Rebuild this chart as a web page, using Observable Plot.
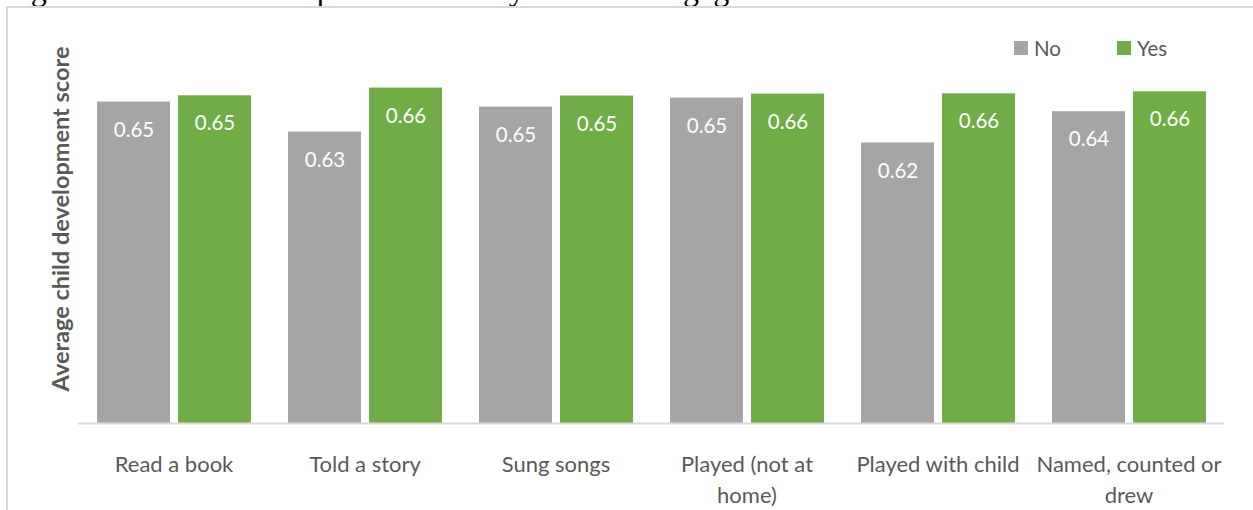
<!DOCTYPE html>
<html>
<head>
<meta charset="utf-8">
<script src="https://cdn.jsdelivr.net/npm/d3@7"></script>
<script src="https://cdn.jsdelivr.net/npm/@observablehq/plot@0.6"></script>
<style>
  html, body { margin: 0; padding: 0; background: #fff; overflow: hidden; width: 1253px; height: 510px; }
  #wrap { position: relative; width: 1253px; height: 510px; overflow: hidden; }
  #title { position: absolute; left: 4px; top: -27px; font: 32px "Liberation Serif", "Times New Roman", serif; line-height: 1; color: #000; white-space: nowrap; }
  #frame { position: absolute; left: 6px; top: 6px; width: 1400px; height: 700px; border-left: 2px solid #d9d9d9; border-top: 2px solid #d9d9d9; }
  #chart { position: absolute; left: 0; top: 0; }
  #ytitle { position: absolute; left: 60px; top: 219px; transform: translate(-50%, -50%) rotate(-90deg); font: bold 23.5px Lato, sans-serif; color: #595959; white-space: nowrap; }
  .legend { position: absolute; top: 36px; font: 20.5px Lato, sans-serif; color: #595959; display: flex; align-items: center; }
  .legend .sw { width: 14px; height: 14px; margin-right: 6px; display: inline-block; }
</style>
</head>
<body>
<div id="wrap">
  <div id="title">Figure 3.4: Child development scores by maternal engagement activities</div>
  <div id="frame"></div>
  <div id="chart"></div>
  <div id="ytitle">Average child development score</div>
  <div class="legend" id="legNo" style="left:1014px"><span class="sw" style="background:#a5a5a5"></span><span>No</span></div>
  <div class="legend" id="legYes" style="left:1117px"><span class="sw" style="background:#70ad47"></span><span>Yes</span></div>
</div>
<script>
const categories = ["Read a book", "Told a story", "Sung songs", "Played (not at home)", "Played with child", "Named, counted or drew"];
const categoryLabels = ["Read a book", "Told a story", "Sung songs", "Played (not at\nhome)", "Played with child", "Named, counted or\ndrew"];
const groups = ["No", "Yes"];
const noValues = [0.650, 0.6267, 0.6461, 0.6531, 0.6182, 0.6425];
const yesValues = [0.6549, 0.6609, 0.6547, 0.6562, 0.6564, 0.6580];
const colors = ["#a5a5a5", "#70ad47"];
const yMin = 0.4, yMax = 0.68;

const data = [];
categories.forEach((c, i) => {
  data.push({category: c, group: "No", value: noValues[i]});
  data.push({category: c, group: "Yes", value: yesValues[i]});
});
const labelOf = new Map(categories.map((c, i) => [c, categoryLabels[i]]));

const chart = Plot.plot({
  width: 1253,
  height: 510,
  marginTop: 63,
  marginBottom: 87,
  marginLeft: 77,
  marginRight: 28,
  style: {fontFamily: "Lato, sans-serif", background: "transparent"},
  fx: {domain: categories, paddingInner: 0, paddingOuter: 0},
  x: {domain: groups, paddingInner: 0.099, paddingOuter: 0.228, axis: null},
  y: {domain: [yMin, yMax], axis: null},
  color: {domain: groups, range: colors},
  marks: [
    Plot.barY(data, {fx: "category", x: "group", y1: () => yMin, y2: "value", fill: "group"}),
    Plot.ruleY([yMin], {stroke: "#d9d9d9", strokeWidth: 2}),
    Plot.text(data, {fx: "category", x: "group", y: "value", text: d => d.value.toFixed(2), dy: 28, fill: "white", fontSize: 20.5}),
    Plot.axisFx({anchor: "bottom", label: null, tickSize: 0, tickPadding: 27, fontSize: 22, lineHeight: 1.4, fill: "#595959", tickFormat: d => labelOf.get(d)})
  ]
});
document.getElementById("chart").appendChild(chart);
</script>
</body>
</html>
